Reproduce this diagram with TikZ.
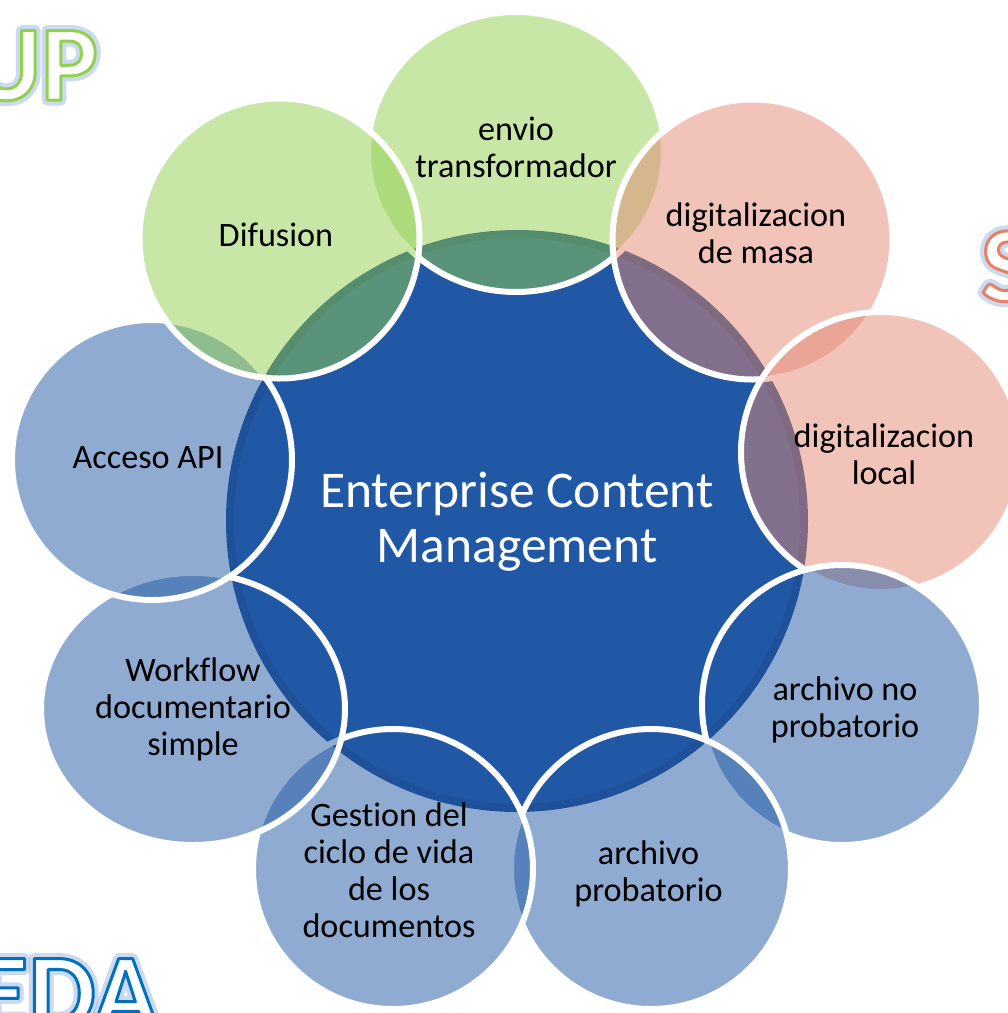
\documentclass[tikz,border=0pt]{standalone}
\usepackage{fontspec}
\setmainfont{Carlito}[Ligatures=NoCommon]
\usetikzlibrary{shapes.geometric}
\definecolor{ecmblue}{RGB}{33,88,165}
\definecolor{ecmrim}{RGB}{27,75,143}
\definecolor{satgreen}{RGB}{146,208,80}
\definecolor{satpink}{RGB}{229,137,117}
\definecolor{satblue}{RGB}{33,88,165}
\tikzset{
  sat/.style={circle, draw=white, line width=6pt, fill opacity=0.5,
    minimum size=280pt, inner sep=0pt, outer sep=0pt},
  satlabel/.style={align=center, font=\fontsize{34.2}{37}\selectfont,
    text=black, inner sep=0pt, outer sep=0pt},
  wordstyle/.style={font=\fontsize{107}{110}\selectfont\bfseries,
    inner sep=0pt, outer sep=0pt},
}
% text render mode: #1 mode, #2 stroke width, #3 stroke colour (r g b)
\newcommand\rendermode[3]{\special{pdf:literal direct #1 Tr #2 w 1 j #3 RG}}
\newcommand\rendernormal{\special{pdf:literal direct 0 Tr}}
% #1 name, #2 position, #3 anchor, #4 outline rgb, #5 text
\newcommand\outlinedword[5]{%
  \begin{scope}[opacity=0.45]
    \node[wordstyle, anchor=#3, text=white] (#1-glow) at #2
      {\rendermode{1}{11}{0.55 0.68 0.86}#5\rendernormal};
  \end{scope}
  \node[wordstyle, anchor=#3, text=white] (#1) at #2
    {\rendermode{2}{3}{#4}#5\rendernormal};
}
\begin{document}
\begin{tikzpicture}[x=1pt, y=-1pt]
\useasboundingbox (0,0) rectangle (1008,1013);
\clip (0,0) rectangle (1008,1013);
\fill[white] (0,0) rectangle (1008,1013);

% corner words
\outlinedword{up}{(98,100)}{base east}{0.573 0.816 0.314}{UP}
\outlinedword{s}{(981,301)}{base west}{0.91 0.50 0.40}{S}
\outlinedword{eda}{(158,1028)}{base east}{0 0.44 0.75}{EDA}

% central circle
\node[circle, minimum size=574pt, draw=ecmrim, line width=8pt, fill=ecmblue,
  inner sep=0pt, outer sep=0pt] (ecm) at (517,521) {};

% satellites, clockwise from the top
\node[sat, fill=satgreen, ellipse, minimum width=296pt, minimum height=280pt] (envio) at (516,152) {};
\node[sat, fill=satpink] (masa) at (752.5,239.5) {};
\node[sat, fill=satpink] (local) at (881,452) {};
\node[sat, fill=satblue] (noprob) at (842,705) {};
\node[sat, fill=satblue] (prob) at (651,869) {};
\node[sat, fill=satblue] (gestion) at (393,869) {};
\node[sat, fill=satblue, ellipse, minimum width=304pt, minimum height=272pt] (workflow) at (193,709) {};
\node[sat, fill=satblue] (api) at (152,460) {};
\node[sat, fill=satgreen] (difusion) at (279.5,238.5) {};

% labels
\node[align=center, font=\fontsize{51.5}{55}\selectfont, text=white, inner sep=0pt]
  (ecmtext) at (517,523.5) {\strut Enterprise Content\\\strut Management};
\node[satlabel] (envio-t) at (516,152) {\strut envio\\\strut transformador};
\node[satlabel] (masa-t) at (756,238) {\strut digitalizacion\\\strut de masa};
\node[satlabel] (local-t) at (884,459) {\strut digitalizacion\\\strut local};
\node[satlabel] (noprob-t) at (845,712) {\strut archivo no\\\strut probatorio};
\node[satlabel] (prob-t) at (648.5,876) {\strut archivo\\\strut probatorio};
\node[satlabel] (gestion-t) at (389,875) {\strut Gestion del\\\strut ciclo de vida\\\strut de los\\\strut documentos};
\node[satlabel] (workflow-t) at (193,711.5) {\strut Workflow\\\strut documentario\\\strut simple};
\node[satlabel] (api-t) at (148,461) {\strut Acceso API};
\node[satlabel] (difusion-t) at (276,239.5) {\strut Difusion};
\end{tikzpicture}
\end{document}
